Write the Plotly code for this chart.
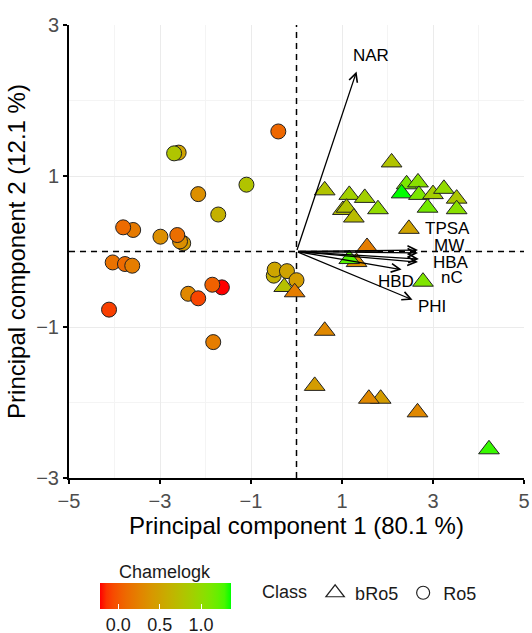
import numpy as np
import plotly.graph_objects as go

# ---- PCA scores: Ro5 compounds (circles) ----
ro5_pc1 = [-0.40, -2.59, -2.69, -1.10, -2.16, -1.72, -3.59, -3.81, -2.99,
           -2.49, -2.56, -2.62, -4.04, -3.77, -3.61, -4.12, -2.38, -2.16,
           -1.64, -1.85, -1.83, -0.50, -0.48, -0.21, 0.00]
ro5_pc2 = [1.59, 1.31, 1.30, 0.885, 0.76, 0.49, 0.285, 0.32, 0.196,
           0.11, 0.134, 0.218, -0.145, -0.166, -0.188, -0.77, -0.56, -0.62,
           -0.475, -0.44, -1.20, -0.32, -0.24, -0.26, -0.38]
ro5_chamelogk = [0.08, 0.50, 0.80, 0.78, 0.35, 0.62, 0.20, 0.10, 0.35,
                 0.45, 0.35, 0.12, 0.15, 0.10, 0.22, -0.10, 0.30, -0.08,
                 -0.22, 0.05, 0.22, 0.62, 0.52, 0.50, 0.45]

# ---- PCA scores: bRo5 compounds (triangles) ----
bro5_pc1 = [-0.27, -0.04, 2.09, 0.62, 1.16, 1.50, 1.79, 1.02, 1.10, 1.26,
            2.42, 2.67, 2.31, 2.69, 3.00, 3.24, 3.52, 2.88, 3.52, 2.47,
            1.55, 1.32, 1.16, 2.78, 0.62, 0.40, 1.85, 1.59, 2.66, 4.23]
bro5_pc2 = [-0.47, -0.54, 1.18, 0.81, 0.75, 0.71, 0.56, 0.55, 0.58, 0.45,
            0.89, 0.915, 0.77, 0.75, 0.76, 0.83, 0.70, 0.58, 0.56, 0.30,
            0.06, -0.14, -0.10, -0.40, -1.05, -1.78, -1.95, -1.95, -2.13, -2.62]
bro5_chamelogk = [0.75, 0.22, 0.78, 0.78, 0.90, 0.90, 1.00, 0.75, 0.78, 0.72,
                  1.12, 1.05, 1.36, 1.12, 0.88, 1.00, 0.82, 1.15, 1.05, 0.50,
                  0.22, 0.35, 1.25, 1.10, 0.30, 0.45, 0.45, 0.30, 0.30, 1.30]

# ---- Variable loadings (arrows) and label positions ----
var_names = ["NAR", "TPSA", "MW", "HBA", "nC", "HBD", "PHI"]
load_pc1 = [1.32, 2.67, 2.67, 2.69, 2.67, 2.31, 2.55]
load_pc2 = [2.385, 0.02, -0.02, -0.10, -0.14, -0.24, -0.64]
label_pc1 = [1.63, 3.31, 3.35, 3.40, 3.41, 2.18, 2.98]
label_pc2 = [2.60, 0.30, 0.077, -0.144, -0.34, -0.40, -0.735]

x_ticks = [-5, -3, -1, 1, 3, 5]
y_ticks = [-3, -1, 1, 3]
cbar_ticks = [0.0, 0.5, 1.0]
cbar_labels = ["0.0", "0.5", "1.0"]

FONT = "Liberation Sans, Arial, sans-serif"

# ---- red -> green gradient interpolated in CIELAB ----
_M = np.array([[0.4124564, 0.3575761, 0.1804375],
               [0.2126729, 0.7151522, 0.0721750],
               [0.0193339, 0.1191920, 0.9503041]])
_WP = np.array([0.95047, 1.0, 1.08883])
_D = 6 / 29


def srgb_to_lab(rgb):
    c = np.asarray(rgb, dtype=float) / 255.0
    lin = np.where(c <= 0.04045, c / 12.92, ((c + 0.055) / 1.055) ** 2.4)
    t = (_M @ lin) / _WP
    f = np.where(t > _D ** 3, np.cbrt(t), t / (3 * _D ** 2) + 4 / 29)
    return np.array([116 * f[1] - 16, 500 * (f[0] - f[1]), 200 * (f[1] - f[2])])


def lab_to_srgb(lab):
    L, a, b = lab
    fy = (L + 16) / 116
    f = np.array([fy + a / 500, fy, fy - b / 200])
    t = np.where(f > _D, f ** 3, 3 * _D ** 2 * (f - 4 / 29))
    lin = np.clip(np.linalg.solve(_M, t * _WP), 0, 1)
    c = np.where(lin <= 0.0031308, 12.92 * lin, 1.055 * lin ** (1 / 2.4) - 0.055)
    r, g, bb = (int(round(v * 255)) for v in np.clip(c, 0, 1))
    return f"rgb({r},{g},{bb})"


lab_lo = srgb_to_lab((255, 0, 0))
lab_hi = srgb_to_lab((0, 255, 0))
colorscale = [[s, lab_to_srgb(lab_lo + (lab_hi - lab_lo) * s)]
              for s in np.linspace(0, 1, 21)]

all_vals = ro5_chamelogk + bro5_chamelogk
cmin, cmax = min(all_vals), max(all_vals)

fig = go.Figure()

# reference lines through the origin
fig.add_shape(type="line", xref="x", yref="y", x0=0, x1=0, y0=-3, y1=3,
              line=dict(color="black", width=1.5, dash="6px,5px"), layer="between")
fig.add_shape(type="line", xref="x", yref="y", x0=-5, x1=5, y0=0, y1=0,
              line=dict(color="black", width=1.5, dash="6px,5px"), layer="between")

fig.add_trace(go.Scatter(
    x=ro5_pc1, y=ro5_pc2, mode="markers", showlegend=False,
    marker=dict(symbol="circle", size=15, color=ro5_chamelogk, coloraxis="coloraxis",
                line=dict(color="#222222", width=1)),
))
fig.add_trace(go.Scatter(
    x=bro5_pc1, y=bro5_pc2, mode="markers", showlegend=False,
    marker=dict(symbol="triangle-up", size=18, color=bro5_chamelogk, coloraxis="coloraxis",
                line=dict(color="#222222", width=1)),
))

# legend entries for the shape (Class) mapping
fig.add_trace(go.Scatter(
    x=[None], y=[None], mode="markers", name="bRo5",
    marker=dict(symbol="triangle-up-open", size=16, color="#222222", line=dict(width=1.2)),
))
fig.add_trace(go.Scatter(
    x=[None], y=[None], mode="markers", name="Ro5",
    marker=dict(symbol="circle-open", size=13, color="#222222", line=dict(width=1.2)),
))

# loading arrows and labels
for name, lx, ly, tx, ty in zip(var_names, load_pc1, load_pc2, label_pc1, label_pc2):
    fig.add_annotation(x=lx, y=ly, ax=0, ay=0, xref="x", yref="y", axref="x", ayref="y",
                       text="", showarrow=True, arrowhead=5, arrowsize=1.3,
                       arrowwidth=1.3, arrowcolor="black", standoff=0, startstandoff=0)
    fig.add_annotation(x=tx, y=ty, xref="x", yref="y", text=name, showarrow=False,
                       borderpad=0, font=dict(family=FONT, size=17, color="black"))

# colour legend title, set just above the bar
fig.add_annotation(x=0.211, y=-0.2075, xref="paper", yref="paper", text="Chamelogk",
                   showarrow=False, xanchor="center", yanchor="middle",
                   font=dict(family=FONT, size=18, color="#1a1a1a"))

axis_common = dict(
    showline=True, linecolor="black", linewidth=2, mirror=False,
    ticks="outside", ticklen=4, tickwidth=1.5, tickcolor="black",
    tickfont=dict(family=FONT, size=20, color="#4d4d4d"),
    showgrid=True, gridcolor="#ebebeb", gridwidth=1, zeroline=False,
    minor=dict(dtick=1, showgrid=True, gridcolor="#f4f4f4", gridwidth=0.6, ticks=""),
)

fig.update_layout(
    width=532, height=633,
    margin=dict(l=69, r=8, t=25, b=155, autoexpand=False),
    paper_bgcolor="white", plot_bgcolor="white",
    font=dict(family=FONT, color="black"),
    xaxis=dict(range=[-5, 5], tickmode="array", tickvals=x_ticks,
               title=dict(text="Principal component 1 (80.1 %)",
                          font=dict(family=FONT, size=24, color="black"), standoff=4),
               **axis_common),
    yaxis=dict(range=[-3, 3], tickmode="array", tickvals=y_ticks,
               title=dict(text="Principal component 2 (12.1 %)",
                          font=dict(family=FONT, size=24, color="black"), standoff=4),
               **axis_common),
    coloraxis=dict(
        colorscale=colorscale, cmin=cmin, cmax=cmax,
        colorbar=dict(
            orientation="h", x=0.212, xanchor="center", y=-0.2318, yanchor="top",
            len=131, lenmode="pixels", thickness=26, thicknessmode="pixels",
            xpad=0, ypad=0,
            outlinewidth=0, ticks="inside", tickcolor="white", ticklen=5, tickwidth=1,
            tickvals=cbar_ticks, ticktext=cbar_labels,
            tickfont=dict(family=FONT, size=18, color="#1a1a1a"),
        ),
    ),
    legend=dict(
        orientation="h", x=0.42, xanchor="left", y=-0.254, yanchor="middle",
        title=dict(text="Class", side="left", font=dict(family=FONT, size=18, color="#1a1a1a")),
        font=dict(family=FONT, size=18, color="#1a1a1a"), bgcolor="rgba(0,0,0,0)",
    ),
)

fig.write_html("out.html")
